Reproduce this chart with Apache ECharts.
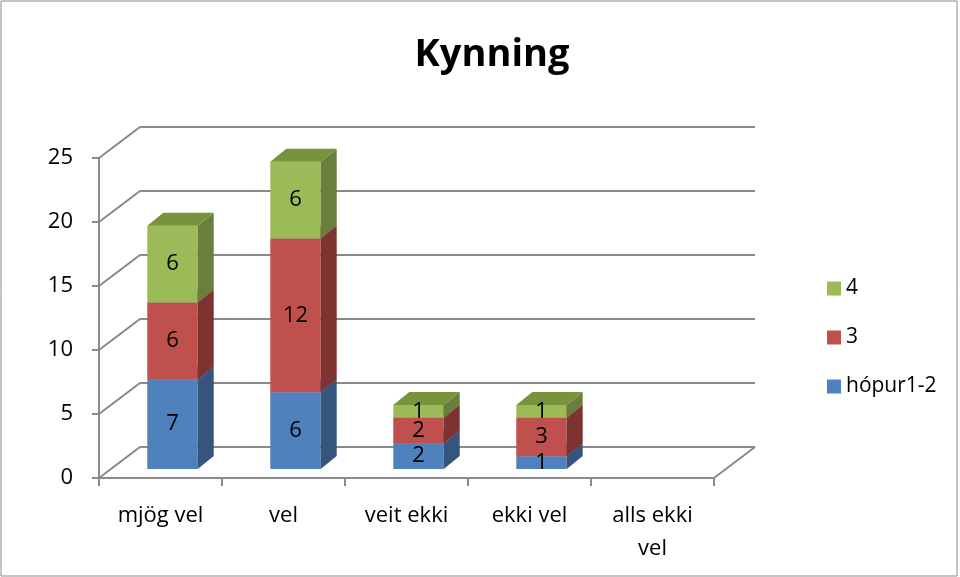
<!DOCTYPE html>
<html>
<head>
<meta charset="utf-8">
<script src="https://cdn.jsdelivr.net/npm/echarts@6/dist/echarts.min.js"></script>
<style>
  html, body { margin: 0; padding: 0; background: #fff; }
  #chart { width: 960px; height: 577px; }
</style>
</head>
<body>
<div id="chart"></div>
<script>
// data
const categories = ['mjög vel', 'vel', 'veit ekki', 'ekki vel', 'alls ekki vel'];
const hopur12 = [7, 6, 2, 1, 0];
const hopur3 = [6, 12, 2, 3, 0];
const hopur4 = [6, 6, 1, 1, 0];
const yTicks = [0, 5, 10, 15, 20, 25];

const seriesNames = ['hópur1-2', '3', '4'];
const seriesValues = [hopur12, hopur3, hopur4];
const faceColors = ['#4F81BD', '#C0504D', '#9BBB59'];
const sideColors = ['#35557F', '#7E3331', '#6A7F3D'];
const topColors = ['#3E6696', '#9A403E', '#77933C'];

const FONT = '"Open Sans"';
// fake 3d: depth of the wall and of the bars
const WALL_DX = 41, WALL_DY = -31;
const BAR_DX = 12, BAR_DY = -9;
const DEPTH_X = 16, DEPTH_Y = -13;
const BAR_RATIO = 0.41;

const chart = echarts.init(document.getElementById('chart'));

function wallItem(params, api) {
  const cs = params.coordSys;
  const v = api.value(0);
  const y = api.coord([0, v])[1];
  const x0 = cs.x, x1 = cs.x + cs.width;
  const lineStyle = { stroke: '#8a8a8a', lineWidth: 2, fill: null };
  const children = [{
    type: 'polyline',
    shape: { points: [[x0, y], [x0 + WALL_DX, y + WALL_DY], [x1 + WALL_DX, y + WALL_DY]] },
    style: lineStyle
  }];
  if (v === 0) {
    children.push({
      type: 'line',
      shape: { x1: x1, y1: y, x2: x1 + WALL_DX, y2: y + WALL_DY },
      style: lineStyle
    });
  }
  return { type: 'group', children: children };
}

function barBox(api) {
  const cat = api.value(0);
  const base = api.value(1);
  const top = api.value(2);
  const pb = api.coord([cat, base]);
  const pt = api.coord([cat, top]);
  const w = api.size([1, 0])[0] * BAR_RATIO;
  const left = pb[0] + BAR_DX - w / 2;
  return { left: left, right: left + w, w: w, yb: pb[1] + BAR_DY, yt: pt[1] + BAR_DY, value: top - base };
}

function makeBarRender(si) {
  return function (params, api) {
    const b = barBox(api);
    if (b.value <= 0) return null;
    return {
      type: 'group',
      children: [
        {
          type: 'rect',
          shape: { x: b.left, y: b.yt, width: b.w, height: b.yb - b.yt },
          style: { fill: faceColors[si] }
        },
        {
          type: 'polygon',
          shape: { points: [[b.right, b.yt], [b.right + DEPTH_X, b.yt + DEPTH_Y], [b.right + DEPTH_X, b.yb + DEPTH_Y], [b.right, b.yb]] },
          style: { fill: sideColors[si] }
        },
        {
          type: 'polygon',
          shape: { points: [[b.left, b.yt], [b.right, b.yt], [b.right + DEPTH_X, b.yt + DEPTH_Y], [b.left + DEPTH_X, b.yt + DEPTH_Y]] },
          style: { fill: topColors[si] }
        }
      ]
    };
  };
}

function labelItem(params, api) {
  const b = barBox(api);
  if (b.value <= 0) return null;
  return {
    type: 'text',
    x: b.left + b.w / 2,
    y: (b.yt + b.yb) / 2,
    style: {
      text: String(b.value),
      fill: '#000',
      font: '22px ' + FONT,
      align: 'center',
      verticalAlign: 'middle'
    }
  };
}

const stackSeries = [];
const labelData = [];
const running = categories.map(() => 0);
seriesValues.forEach((vals, si) => {
  const data = vals.map((v, ci) => {
    const b = running[ci];
    running[ci] += v;
    return [ci, b, b + v];
  });
  data.forEach(d => labelData.push(d));
  stackSeries.push({
    name: seriesNames[si],
    type: 'custom',
    renderItem: makeBarRender(si),
    itemStyle: { color: faceColors[si] },
    encode: { x: 0, y: [1, 2] },
    data: data,
    z: 3 + si
  });
});

const option = {
  backgroundColor: '#fff',
  animation: false,
  title: {
    text: 'Kynning',
    left: 487,
    top: 31,
    textAlign: 'center',
    textStyle: { fontFamily: 'Open Sans', fontSize: 38, fontWeight: 'bold', color: '#000' }
  },
  legend: {
    orient: 'vertical',
    left: 822,
    top: 273,
    data: ['4', '3', 'hópur1-2'],
    icon: 'rect',
    itemWidth: 14,
    itemHeight: 14,
    itemGap: 28,
    textStyle: { fontFamily: 'Open Sans', fontSize: 21, color: '#000', lineHeight: 21 }
  },
  grid: { left: 99, top: 158, width: 615, height: 320 },
  xAxis: {
    type: 'category',
    data: categories,
    axisLine: { lineStyle: { color: '#8a8a8a', width: 2 } },
    axisTick: { show: true, length: 8, lineStyle: { color: '#8a8a8a', width: 2 } },
    axisLabel: {
      fontFamily: 'Open Sans', fontSize: 22, color: '#000', margin: 21, lineHeight: 33,
      formatter: v => v === 'alls ekki vel' ? 'alls ekki\nvel' : v
    },
    splitLine: { show: false }
  },
  yAxis: {
    type: 'value',
    min: 0,
    max: 25,
    interval: 5,
    axisLine: { show: true, lineStyle: { color: '#8a8a8a', width: 2 } },
    axisTick: { show: true, length: 7, lineStyle: { color: '#8a8a8a', width: 2 } },
    axisLabel: { fontFamily: 'Open Sans', fontSize: 22, color: '#000', margin: 26 },
    splitLine: { show: false }
  },
  graphic: [{
    type: 'rect',
    shape: { x: 1, y: 1, width: 956, height: 575 },
    style: { fill: null, stroke: '#8a8a8a', lineWidth: 1 },
    z: -1
  }],
  series: [{
    type: 'custom',
    renderItem: wallItem,
    encode: { y: 0 },
    data: yTicks.map(v => [v]),
    silent: true,
    z: 1
  }].concat(stackSeries, [{
    type: 'custom',
    renderItem: labelItem,
    encode: { x: 0, y: [1, 2] },
    data: labelData,
    silent: true,
    z: 10
  }])
};

chart.setOption(option);
</script>
</body>
</html>
